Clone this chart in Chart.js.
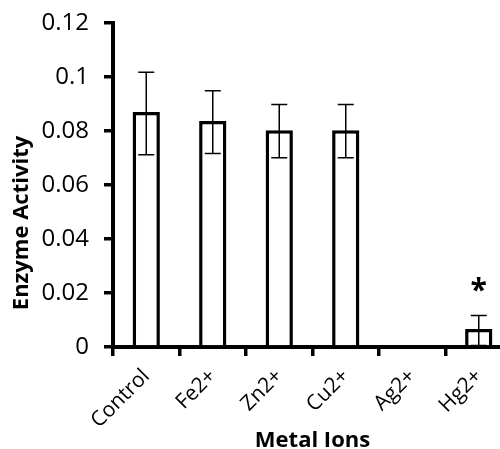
<!DOCTYPE html>
<html>
<head>
<meta charset="utf-8">
<script src="https://cdn.jsdelivr.net/npm/chart.js@4"></script>
<style>
  html, body { margin: 0; padding: 0; background: #fff; overflow: hidden; }
  #wrap { width: 514px; height: 449px; }
</style>
</head>
<body>
<div id="wrap"><canvas id="c" width="514" height="449"></canvas></div>
<script>
const categories = ["Control", "Fe2+", "Zn2+", "Cu2+", "Ag2+", "Hg2+"];
const activity = [0.087, 0.0837, 0.0803, 0.0803, 0, 0.0067];
const errLow = [0.0712, 0.0717, 0.0701, 0.0701, null, 0.0006];
const errHigh = [0.1018, 0.0949, 0.0898, 0.0898, null, 0.0117];
const marks = ["", "", "", "", "", "*"];
const yTicks = [0, 0.02, 0.04, 0.06, 0.08, 0.1, 0.12];

const FONT = "'Open Sans', 'Liberation Sans', sans-serif";

const errorBarPlugin = {
  id: 'errorBars',
  afterDatasetsDraw(chart) {
    const ctx = chart.ctx;
    const meta = chart.getDatasetMeta(0);
    const y = chart.scales.y;
    ctx.save();
    ctx.strokeStyle = '#000';
    ctx.lineWidth = 1.5;
    meta.data.forEach((bar, i) => {
      if (errLow[i] == null) return;
      const x = bar.x;
      const yl = y.getPixelForValue(errLow[i]);
      const yh = y.getPixelForValue(errHigh[i]);
      ctx.beginPath();
      ctx.moveTo(x, yl); ctx.lineTo(x, yh);
      ctx.moveTo(x - 8, yl); ctx.lineTo(x + 8, yl);
      ctx.moveTo(x - 8, yh); ctx.lineTo(x + 8, yh);
      ctx.stroke();
    });
    ctx.fillStyle = '#000';
    ctx.font = "bold 30px " + FONT;
    ctx.textAlign = 'center';
    ctx.textBaseline = 'middle';
    meta.data.forEach((bar, i) => {
      if (!marks[i]) return;
      const yh = y.getPixelForValue(errHigh[i]);
      ctx.fillText(marks[i], bar.x, yh - 24);
    });
    // y axis title
    ctx.save();
    ctx.translate(22, 223);
    ctx.rotate(-Math.PI / 2);
    ctx.font = "bold 22px " + FONT;
    ctx.textAlign = 'center';
    ctx.textBaseline = 'middle';
    ctx.fillText("Enzyme Activity", 0, 0);
    ctx.restore();
    ctx.restore();
  }
};

new Chart(document.getElementById('c'), {
  type: 'bar',
  data: {
    labels: categories,
    datasets: [{
      label: 'Enzyme Activity',
      data: activity,
      backgroundColor: '#ffffff',
      borderColor: '#000000',
      borderWidth: 3.5,
      barPercentage: 0.41,
      categoryPercentage: 1.0
    }]
  },
  options: {
    responsive: false,
    animation: false,
    devicePixelRatio: 1,
    layout: { padding: { top: 23, right: 2, left: 0, bottom: 0 } },
    plugins: { legend: { display: false }, tooltip: { enabled: false } },
    scales: {
      x: {
        afterFit: s => { s.height = 102; s.paddingLeft = 0; s.paddingRight = 0; },
        grid: { display: true, drawOnChartArea: false, drawTicks: true, tickLength: 9, color: '#000', lineWidth: 3.5, offset: true },
        border: { display: true, color: '#000', width: 4 },
        ticks: { color: '#000', font: { family: FONT, size: 21 }, minRotation: 45, maxRotation: 45, padding: 8, autoSkip: false },
        title: { display: true, text: 'Metal Ions', color: '#000', font: { family: FONT, size: 22, weight: 'bold' }, padding: { top: 0, bottom: -5 } }
      },
      y: {
        min: 0, max: 0.12,
        afterFit: s => { s.width = 113; s.paddingTop = 0; s.paddingBottom = 0; },
        afterBuildTicks: s => { s.ticks = yTicks.map(v => ({ value: v })); },
        grid: { display: true, drawOnChartArea: false, drawTicks: true, tickLength: 9, color: '#000', lineWidth: 3.5 },
        border: { display: true, color: '#000', width: 4 },
        ticks: { color: '#000', font: { family: FONT, size: 24 }, padding: 15, callback: v => String(v) },
        title: { display: false }
      }
    }
  },
  plugins: [errorBarPlugin]
});
</script>
</body>
</html>
